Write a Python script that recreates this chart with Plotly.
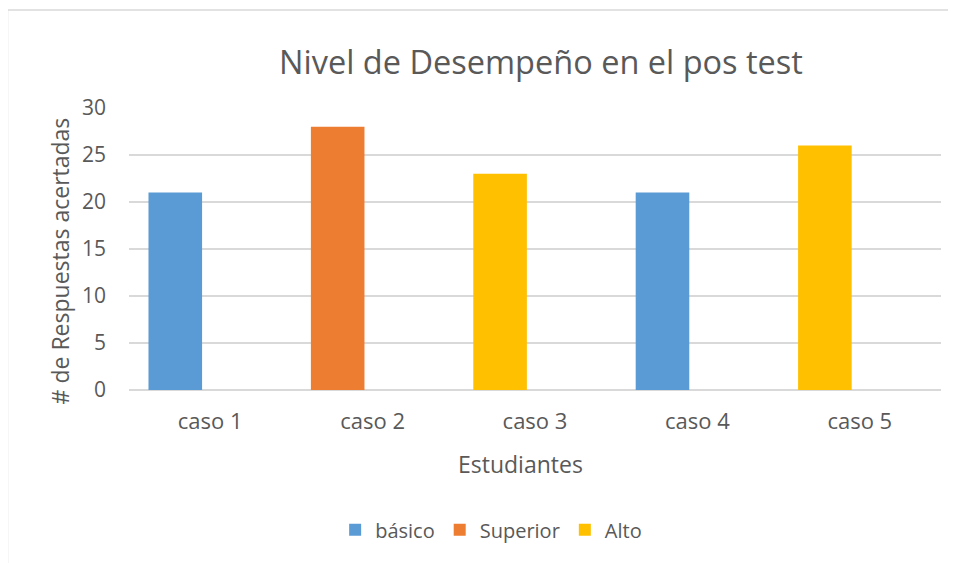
import plotly.graph_objects as go

casos = ["caso 1", "caso 2", "caso 3", "caso 4", "caso 5"]
aciertos = [21, 28, 23, 21, 26]
nivel = ["básico", "Superior", "Alto", "básico", "Alto"]

niveles = ["básico", "Superior", "Alto"]
colores = {"básico": "#5B9BD5", "Superior": "#ED7D31", "Alto": "#FFC000"}

TEXT = "#595959"
GRID = "#D9D9D9"
FONT = "Open Sans, Lato, sans-serif"

# page body has an 8px margin, so the figure is 8px smaller each way
W, H = 948, 555

fig = go.Figure()
for nv in niveles:
    xs = [c for c, n in zip(casos, nivel) if n == nv]
    ys = [v for v, n in zip(aciertos, nivel) if n == nv]
    fig.add_trace(go.Bar(
        x=xs, y=ys, name=nv,
        marker=dict(color=colores[nv], line=dict(width=0)),
        width=0.33, offset=-0.38,
        hovertemplate="%{x}: %{y}<extra>" + nv + "</extra>",
    ))

fig.update_layout(
    width=W, height=H,
    margin=dict(l=121, r=15, t=100, b=173),
    paper_bgcolor="white", plot_bgcolor="white",
    barmode="overlay",
    font=dict(family=FONT, color=TEXT, size=20),
    title=dict(text="Nivel de Desempeño en el pos test",
               font=dict(size=32.5, color=TEXT, family=FONT),
               x=533 / W, xref="container", xanchor="center",
               y=1 - 55 / H, yref="container", yanchor="middle"),
    xaxis=dict(categoryorder="array", categoryarray=casos,
               showgrid=False, zeroline=False, showline=False,
               ticks="", ticklabelstandoff=16,
               tickfont=dict(size=22, color=TEXT)),
    yaxis=dict(range=[0, 30], dtick=5, showgrid=True, gridcolor=GRID,
               gridwidth=1.5, zeroline=True, zerolinecolor=GRID,
               zerolinewidth=1.5, showline=False, ticks="",
               ticklabelstandoff=22, tickfont=dict(size=21, color=TEXT)),
    legend=dict(orientation="h", x=0.446, xanchor="center",
                y=-0.496, yanchor="middle",
                font=dict(size=20, color=TEXT), itemwidth=30,
                traceorder="normal"),
    annotations=[
        dict(text="# de Respuestas acertadas", textangle=-90,
             xref="paper", yref="paper", x=(60 - 129) / 812, y=0.456,
             xanchor="center", yanchor="middle",
             showarrow=False, font=dict(size=23, color=TEXT)),
        dict(text="Estudiantes", xref="paper", yref="paper",
             x=(520.5 - 129) / 812, y=(390 - 464) / 282,
             xanchor="center", yanchor="middle",
             showarrow=False, font=dict(size=23, color=TEXT)),
    ],
    shapes=[
        dict(type="rect", xref="paper", yref="paper",
             x0=(7.5 - 129) / 812, x1=(965 - 129) / 812,
             y0=(390 - 575) / 282, y1=1 + (108 - 10) / 282,
             line=dict(color=GRID, width=1.5), layer="below"),
    ],
)

fig.write_html("out.html")
